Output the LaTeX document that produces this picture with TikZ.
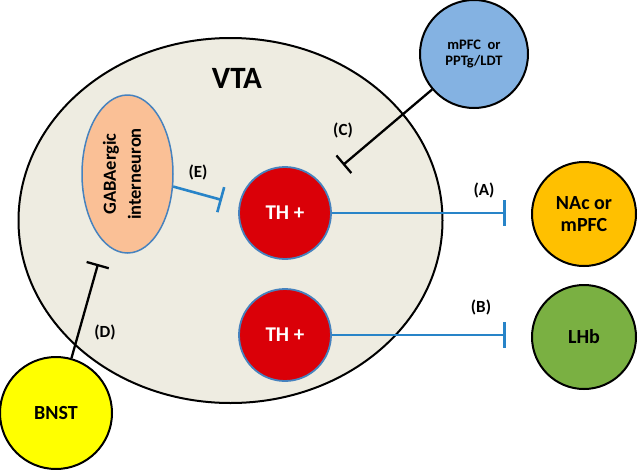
\documentclass[tikz,border=0pt]{standalone}
\usepackage{fontspec}
\setmainfont{Carlito}
\usetikzlibrary{shapes.geometric,arrows.meta}
\definecolor{vtafill}{RGB}{238,236,225}
\definecolor{gabafill}{RGB}{250,192,150}
\definecolor{thred}{RGB}{218,0,8}
\definecolor{cellblue}{RGB}{70,130,190}
\definecolor{linkblue}{RGB}{40,132,200}
\definecolor{mpfcfill}{RGB}{132,178,226}
\definecolor{nacfill}{RGB}{255,192,0}
\definecolor{lhbfill}{RGB}{122,176,66}
\definecolor{bnstfill}{RGB}{255,255,0}
\newcommand{\fsz}[1]{\fontsize{#1}{#1}\selectfont\bfseries}
\tikzset{
  region/.style={circle, draw=black, line width=2pt, inner sep=0pt, align=center},
  thcell/.style={circle, draw=cellblue, line width=1.8pt, fill=thred, text=white,
    minimum size=92pt, inner sep=0pt, font=\fsz{21}},
  lbl/.style={font=\fsz{17}},
  inhblue/.style={draw=linkblue, line width=2.6pt, -{Bar[width=26pt,line width=2.6pt]}},
  inhblack/.style={draw=black, line width=2.3pt, -{Bar[width=23pt,line width=2.3pt]}},
}
\begin{document}
\begin{tikzpicture}[x=1pt,y=-1pt]
\useasboundingbox (0,0) rectangle (640,469);
% VTA
\node[ellipse, draw=black, line width=2pt, fill=vtafill, minimum width=424pt,
  minimum height=365pt, inner sep=0pt] (vta) at (230.5,220.5) {};
\node[font=\fsz{31}] (vtalabel) at (237,78) {VTA};
% GABAergic interneuron
\node[ellipse, draw=cellblue, line width=1.5pt, fill=gabafill, minimum width=91pt,
  minimum height=158pt, inner sep=0pt] (gaba) at (127.5,174) {};
\node[rotate=90, align=center, font={\fontsize{18.5}{25}\selectfont\bfseries}]
  (gabatext) at (122,174) {GABAergic\\interneuron};
% TH+ cells
\node[thcell] (th1) at (285,213) {TH +};
\node[thcell] (th2) at (285,335) {TH +};
% outer regions
\node[region, fill=mpfcfill, minimum size=108pt, font=\fsz{14.5}] (mpfc) at (474,54)
  {mPFC~~or\\[1pt]PPTg/LDT};
\node[region, fill=nacfill, minimum size=104pt, font=\fsz{20}] (nac) at (584,214)
  {NAc or\\[2pt]mPFC};
\node[region, fill=lhbfill, minimum size=104pt, font=\fsz{20}] (lhb) at (584,337) {LHb};
\node[region, fill=bnstfill, minimum size=112pt, font=\fsz{20}] (bnst) at (56,413) {BNST};
% bar end points
\coordinate (barA) at (506,213);
\coordinate (barB) at (506,335);
\coordinate (barC) at (343,165);
\coordinate (barE) at (222,200);
\coordinate (barD) at (98,264);
% connectors
\draw[inhblue] (th1.east) -- (barA);
\draw[inhblue] (th2.east) -- (barB);
\draw[inhblack] (mpfc) -- (barC);
\draw[inhblue] (gaba) -- (barE);
\draw[inhblack] (bnst) -- (barD);
% labels
\node[lbl] (la) at (484,190) {(A)};
\node[lbl] (lb) at (481,307) {(B)};
\node[lbl] (lc) at (343,130) {(C)};
\node[lbl] (ld) at (105,332) {(D)};
\node[lbl] (le) at (198,172) {(E)};
\end{tikzpicture}
\end{document}
